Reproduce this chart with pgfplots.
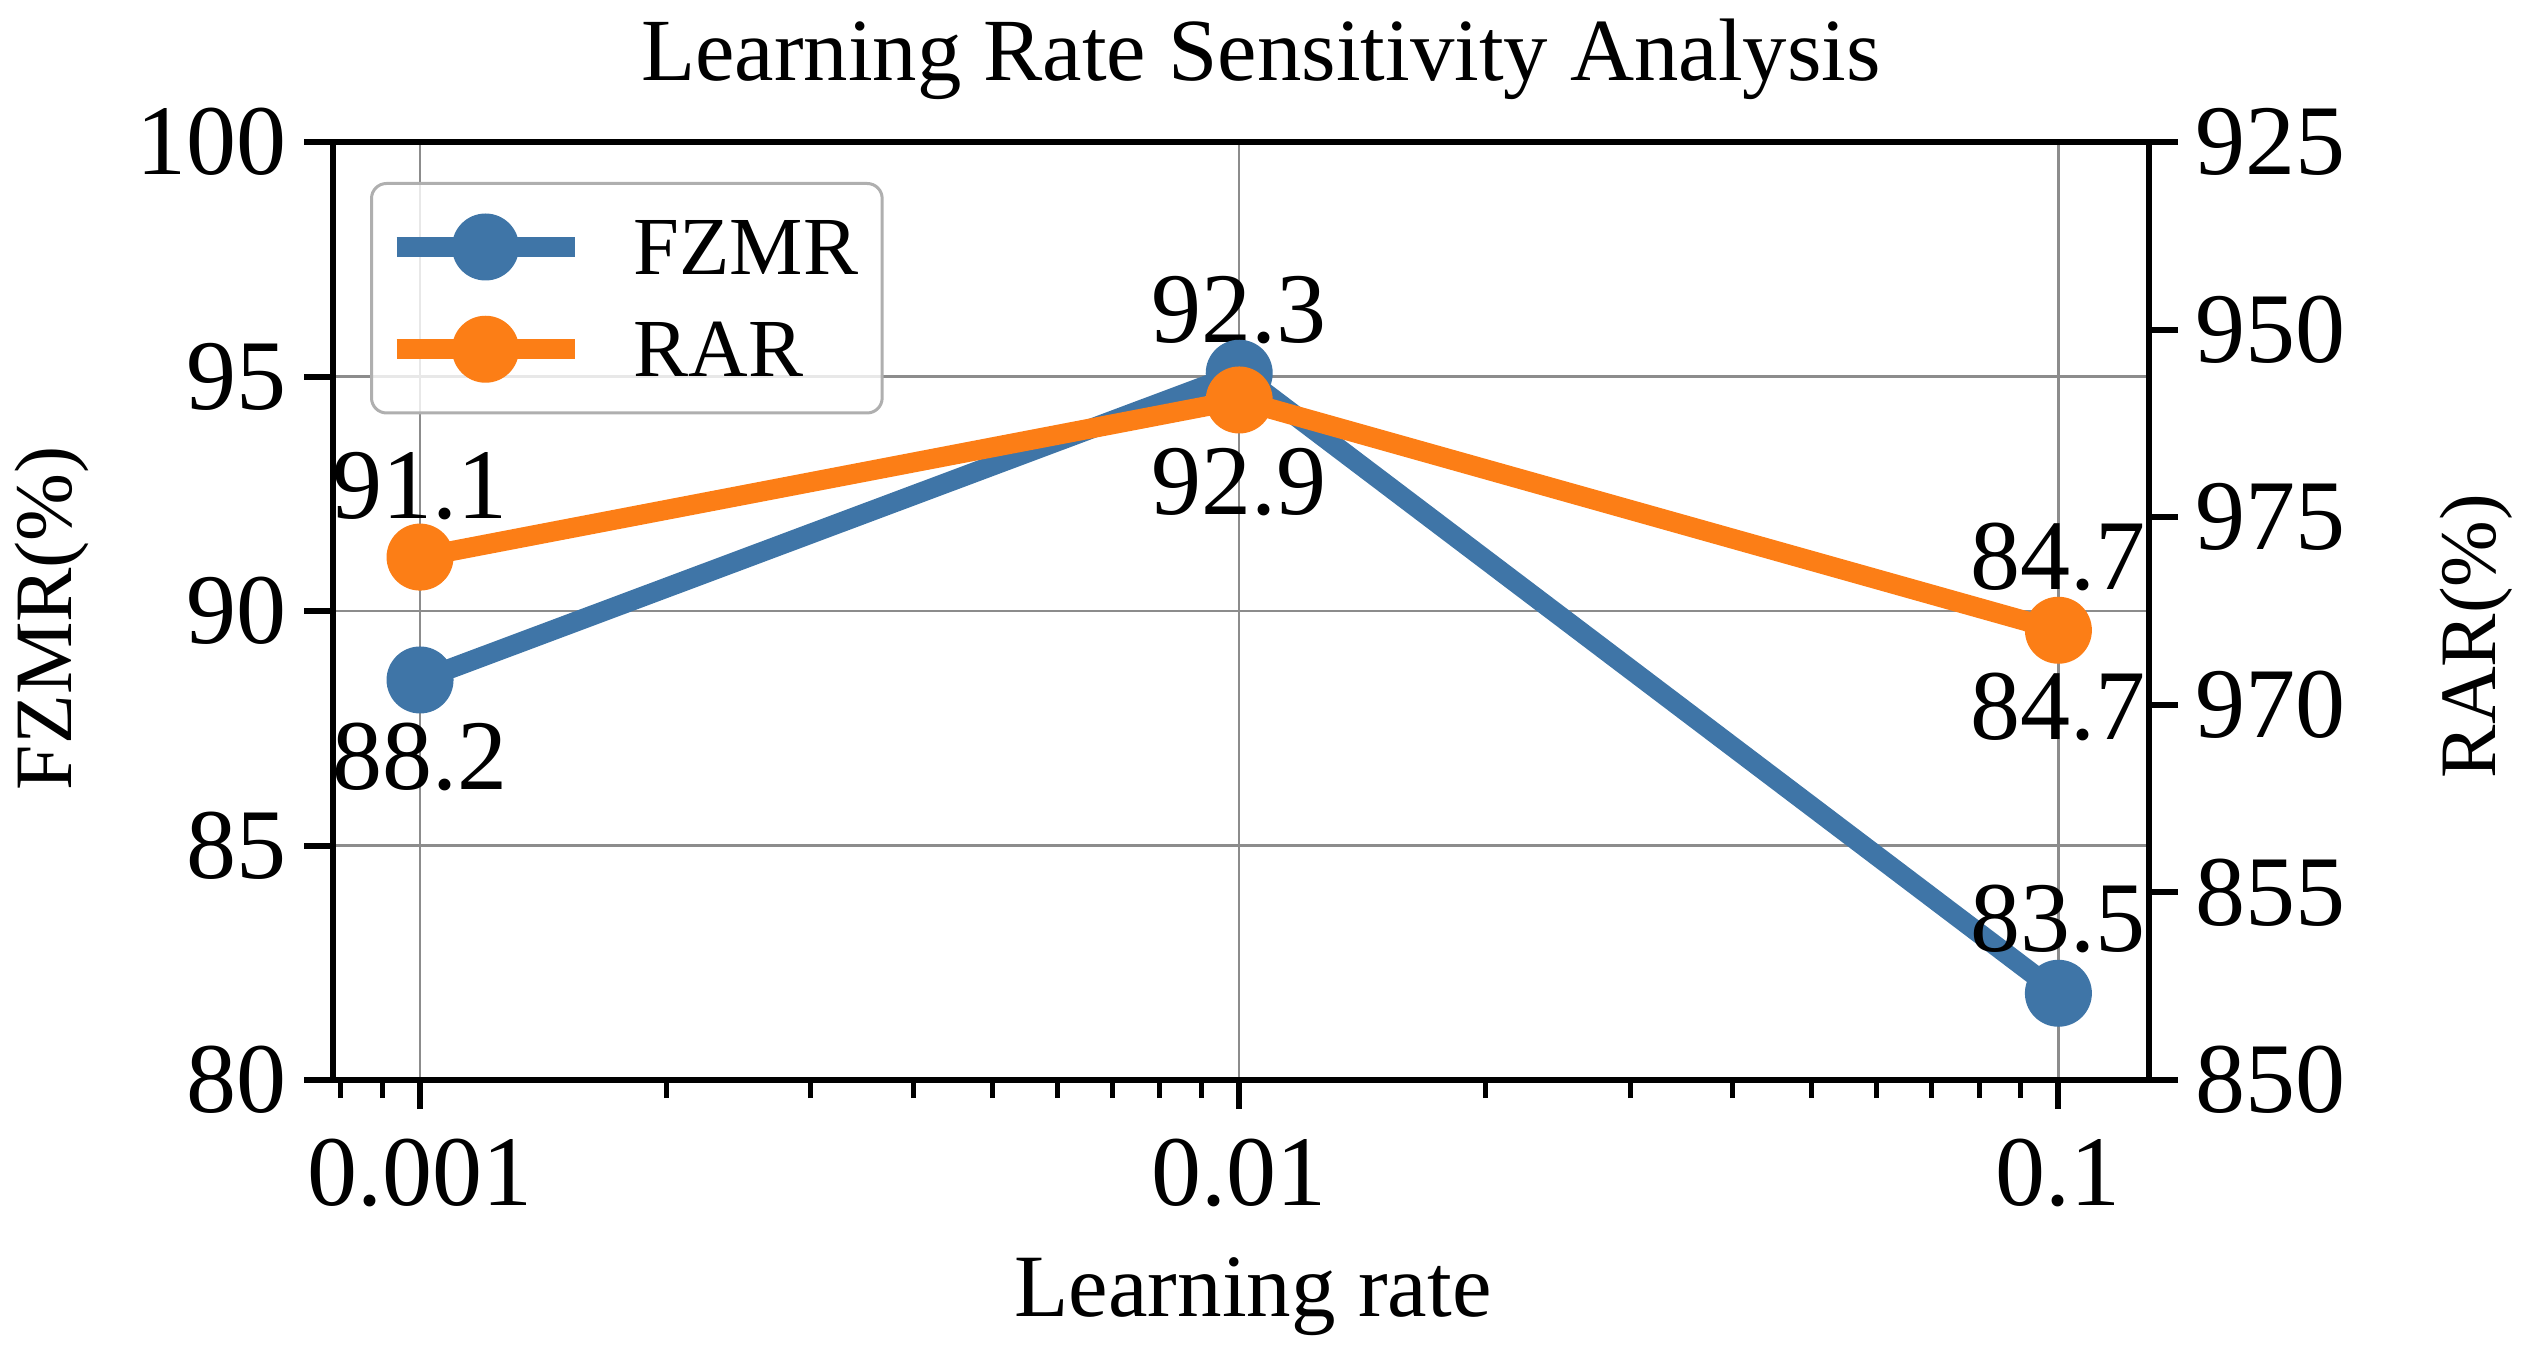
\documentclass[border=0pt]{standalone}
\usepackage{fontspec}
\setmainfont{Liberation Serif}
\usepackage{pgfplots}
\pgfplotsset{compat=1.18}
\definecolor{cblue}{RGB}{63,117,167}
\definecolor{corange}{RGB}{252,126,22}
\definecolor{gridgray}{RGB}{140,140,140}
\definecolor{legframe}{RGB}{175,175,175}
\newcommand\tickfont{\fontsize{20}{24}\selectfont}
\tikzset{dl/.style={font=\tickfont, anchor=base, inner sep=0pt}}
\begin{document}
\begin{tikzpicture}
\useasboundingbox (-66.6pt,-55.4pt) rectangle (439.2pt,216pt);
\begin{axis}[
  at={(0pt,0pt)}, anchor=south west,
  scale only axis, width=363.2pt, height=187.6pt,
  xmode=log, xmin=0.000783, xmax=0.129,
  ymin=80, ymax=100,
  xtick={0.001,0.01,0.1}, xticklabels={0.001,0.01,0.1},
  minor xtick={0.0008,0.0009,0.002,0.003,0.004,0.005,0.006,0.007,0.008,0.009,0.02,0.03,0.04,0.05,0.06,0.07,0.08,0.09},
  ytick={80,85,90,95,100}, yticklabels={80,85,90,95,100},
  xtick pos=bottom, ytick pos=left,
  tick align=outside,
  major tick length=5.8pt, minor tick length=3.6pt,
  major tick style={line width=1.2pt, black},
  minor tick style={line width=1pt, black},
  axis line style={line width=1.2pt, black},
  xmajorgrids, ymajorgrids,
  major grid style={gridgray, line width=0.5pt},
  tick label style={font=\tickfont},
  xticklabel style={yshift=-2.5pt},
  legend style={at={(0.0204,0.9574)}, anchor=north west, draw=legframe, line width=0.6pt,
    rounded corners=3pt, fill=white, fill opacity=0.8, text opacity=1, draw opacity=1,
    inner xsep=3pt, inner ysep=5.5pt, row sep=6pt, column sep=8pt,
    font=\fontsize{16.5}{20}\selectfont,
    nodes={inner sep=1.8pt, text depth=0pt}},
  legend cell align=left,
  legend image code/.code={\draw[#1, fill opacity=1, mark repeat=2, mark phase=2] plot coordinates {(0pt,0pt) (17.8pt,0pt) (35.6pt,0pt)};},
]
\addplot[cblue, line width=4pt, line join=round, mark=*, mark size=6.5pt,
  mark options={solid, fill=cblue, draw=cblue, line width=0.4pt}]
  coordinates {(0.001,88.53) (0.01,95.07) (0.1,81.85)};
\addlegendentry{FZMR}
\addplot[corange, line width=4pt, line join=round, mark=*, mark size=6.5pt,
  mark options={solid, fill=corange, draw=corange, line width=0.4pt}]
  coordinates {(0.001,91.15) (0.01,94.50) (0.1,89.59)};
\addlegendentry{RAR}
\node[dl, yshift=7.8pt] at (axis cs:0.001,91.15) {91.1};
\node[dl, yshift=-22pt] at (axis cs:0.001,88.53) {88.2};
\node[dl, yshift=6.2pt] at (axis cs:0.01,95.07) {92.3};
\node[dl, yshift=-23pt] at (axis cs:0.01,94.50) {92.9};
\node[dl, yshift=8.2pt] at (axis cs:0.1,89.59) {84.7};
\node[dl, yshift=-21.8pt] at (axis cs:0.1,89.59) {84.7};
\node[dl, yshift=8.4pt] at (axis cs:0.1,81.85) {83.5};
\end{axis}
\begin{axis}[
  at={(0pt,0pt)}, anchor=south west,
  scale only axis, width=363.2pt, height=187.6pt,
  xmin=0, xmax=1, ymin=0, ymax=5,
  hide x axis, axis y line*=right,
  ytick={0,1,2,3,4,5}, yticklabels={850,855,970,975,950,925},
  minor tick num=0,
  tick align=outside, major tick length=5.8pt,
  major tick style={line width=1.2pt, black},
  axis line style={-, line width=1.2pt, black},
  tick label style={font=\tickfont},
]
\end{axis}
\node[anchor=base, font=\fontsize{17.75}{22}\selectfont] at (185.6pt,200pt) {Learning Rate Sensitivity Analysis};
\node[anchor=base, font=\fontsize{17.8}{22}\selectfont] at (184pt,-47.2pt) {Learning rate};
\node[anchor=base, rotate=90, font=\fontsize{16.3}{20}\selectfont] at (-52.2pt,92.4pt) {FZMR(\%)};
\node[anchor=base, rotate=90, font=\fontsize{16}{20}\selectfont] at (432.4pt,88.8pt) {RAR(\%)};
\end{tikzpicture}
\end{document}
